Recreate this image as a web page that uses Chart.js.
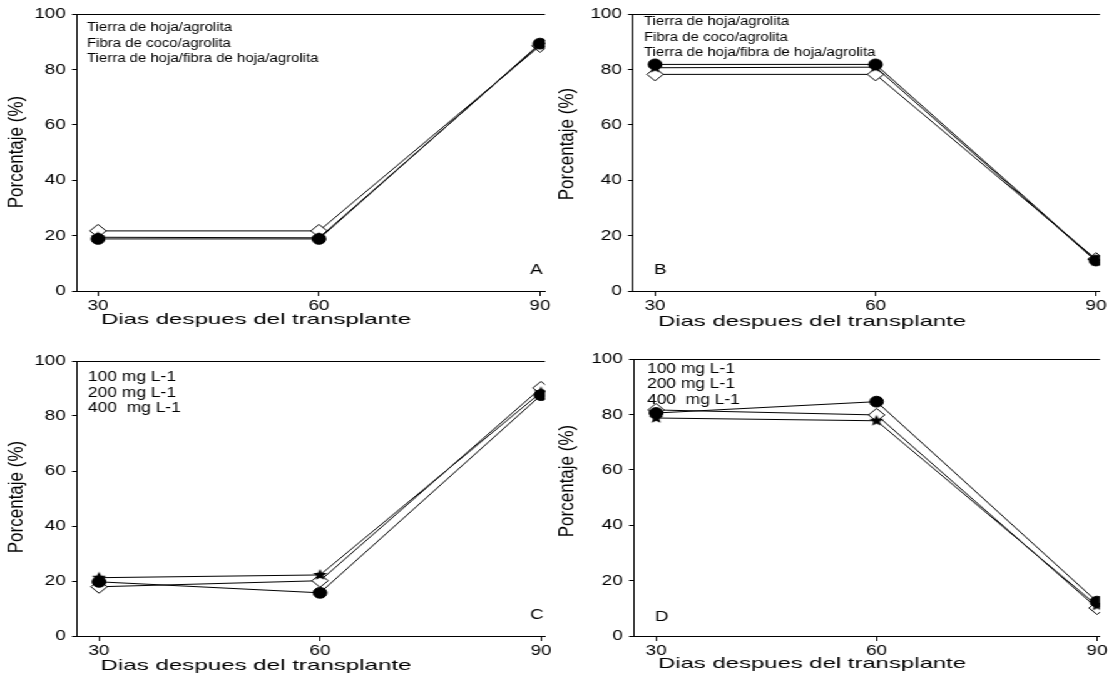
<!DOCTYPE html>
<html><head><meta charset="utf-8">
<script src="https://cdn.jsdelivr.net/npm/chart.js@4.4.0/dist/chart.umd.min.js"></script>
<style>
html,body{margin:0;padding:0;background:#fff;overflow:hidden;width:1114px;height:677px;}
#wrap{position:absolute;left:0;top:0;width:890px;height:677px;transform:scaleX(1.2517);transform-origin:0 0;}
canvas{position:absolute;}
</style></head>
<body><div id="wrap">
<canvas id="cA"></canvas><canvas id="cB"></canvas><canvas id="cC"></canvas><canvas id="cD"></canvas>
</div>
<script>
// ---- data ----
const days = [30, 60, 90];
const xTicks = [30, 60, 90];
const yTicks = [0, 20, 40, 60, 80, 100];
const legendSustrato = ["Tierra de hoja/agrolita", "Fibra de coco/agrolita", "Tierra de hoja/fibra de hoja/agrolita"];
const legendDosis = ["100 mg L-1", "200 mg L-1", "400  mg L-1"];
const xTitle = "Dias despues del transplante";
const yTitle = "Porcentaje (%)";

const A_circle = [18.8, 18.8, 89.3];
const A_star = [19.4, 19.2, 89.0];
const A_diamond = [21.7, 21.7, 88.5];

const B_circle = [81.8, 81.8, 11.0];
const B_star = [80.6, 80.8, 10.8];
const B_diamond = [78.2, 78.2, 11.5];

const C_circle = [19.7, 15.7, 87.6];
const C_star = [21.2, 22.2, 88.6];
const C_diamond = [17.9, 20.1, 90.2];

const D_circle = [80.5, 84.6, 12.4];
const D_star = [78.7, 77.7, 11.0];
const D_diamond = [81.6, 79.8, 10.1];

// ---- drawing ----
const S = 1114 / 890;
const FONT = "'Liberation Sans', Arial, sans-serif";

function starImg(r) {
  const c = document.createElement('canvas');
  const size = Math.ceil(r * 2 + 2);
  c.width = c.height = size;
  const g = c.getContext('2d');
  g.beginPath();
  for (let i = 0; i < 10; i++) {
    const a = -Math.PI / 2 + i * Math.PI / 5;
    const rr = i % 2 ? r * 0.45 : r;
    g.lineTo(size / 2 + rr * Math.cos(a), size / 2 + rr * Math.sin(a));
  }
  g.closePath();
  g.fillStyle = '#000';
  g.fill();
  return c;
}
const STAR = starImg(6);

function ds(label, data, style) {
  const base = {label, data: data.map((v, i) => ({x: days[i], y: v})), borderColor: '#000', borderWidth: 1, tension: 0};
  if (style === 'circle') Object.assign(base, {pointStyle: 'circle', pointRadius: 5.4, backgroundColor: '#000', pointBorderColor: '#000', pointBackgroundColor: '#000'});
  if (style === 'diamond') Object.assign(base, {pointStyle: 'rectRot', pointRadius: 6.5, pointBackgroundColor: '#fff', pointBorderColor: '#000', pointBorderWidth: 1, backgroundColor: '#fff'});
  if (style === 'star') Object.assign(base, {pointStyle: STAR, pointRadius: 6, backgroundColor: '#000'});
  return base;
}

function panel(id, p) {
  const cv = document.getElementById(id);
  const cl = p.canvasLeftReal / S;
  cv.style.left = cl + 'px';
  cv.style.top = p.top + 'px';
  const w = p.widthReal / S;
  cv.width = Math.round(w); cv.height = p.height;
  cv.style.width = Math.round(w) + 'px'; cv.style.height = p.height + 'px';
  const ux = rx => rx / S - cl;
  const areaLeft = ux(p.areaLeftReal), areaRight = ux(p.areaRightReal);
  const overlay = {
    id: 'overlay',
    afterDraw(chart) {
      const ctx = chart.ctx, a = chart.chartArea;
      ctx.save();
      ctx.strokeStyle = '#000'; ctx.lineWidth = 1;
      ctx.beginPath(); ctx.moveTo(a.left, Math.round(a.top) + 0.5); ctx.lineTo(a.right, Math.round(a.top) + 0.5); ctx.stroke();
      ctx.fillStyle = '#000'; ctx.textBaseline = 'middle'; ctx.textAlign = 'left';
      ctx.font = p.legendSize + 'px ' + FONT;
      const k = (p.legW / S) / ctx.measureText(p.legend[0]).width;
      p.legend.forEach((t, i) => {
        ctx.save(); ctx.translate(ux(p.legX), p.legY[i] - p.top); ctx.scale(k, 1); ctx.fillText(t, 0, 0); ctx.restore();
      });
      ctx.font = '15px ' + FONT;
      ctx.fillText(p.letter, ux(p.letterX), p.letterY - p.top);
      ctx.font = p.xTitleSize + 'px ' + FONT;
      const kx = (p.xTitleW / S) / ctx.measureText(xTitle).width;
      ctx.save(); ctx.translate(ux(p.xTitleX), p.xTitleY - p.top); ctx.scale(kx, 1); ctx.textAlign = 'center'; ctx.fillText(xTitle, 0, 0); ctx.restore();
      ctx.textAlign = 'center';
      ctx.translate(ux(p.yTitleX), p.yTitleY - p.top);
      ctx.rotate(-Math.PI / 2);
      ctx.font = p.yTitleSize + 'px ' + FONT;
      ctx.fillText(yTitle, 0, 0);
      ctx.restore();
    }
  };
  const gridOpts = {display: true, drawOnChartArea: false, drawTicks: true, tickLength: 4, color: '#000', lineWidth: 1};
  new Chart(cv, {
    type: 'line',
    data: {datasets: [ds(p.legend[0], p.circle, 'circle'), ds(p.legend[2], p.star, 'star'), ds(p.legend[1], p.diamond, 'diamond')]},
    options: {
      responsive: false, animation: false, devicePixelRatio: 1,
      layout: {padding: {left: 0, right: cv.width - areaRight, top: p.areaTop - p.top, bottom: 0}},
      plugins: {legend: {display: false}, tooltip: {enabled: false}, title: {display: false}},
      scales: {
        x: {type: 'linear', min: p.xmin, max: p.xmax,
          afterBuildTicks: s => { s.ticks = xTicks.map(v => ({value: v})); },
          afterFit: s => { s.height = p.top + p.height - p.areaBottom; },
          grid: Object.assign({}, gridOpts, {tickLength: 5}), border: {display: true, color: '#000', width: 1},
          ticks: {color: '#000', font: {family: FONT, size: 15}, padding: 1, maxRotation: 0, autoSkip: false}},
        y: {type: 'linear', min: 0, max: 100,
          afterBuildTicks: s => { s.ticks = yTicks.map(v => ({value: v})); },
          afterFit: s => { s.width = areaLeft; },
          grid: gridOpts, border: {display: true, color: '#000', width: 1},
          ticks: {color: '#000', font: {family: FONT, size: 15}, padding: 5}}
      }
    },
    plugins: [overlay]
  });
}

panel('cA', {canvasLeftReal: 0, widthReal: 557, top: 0, height: 338, areaLeftReal: 77, areaRightReal: 545, areaTop: 14, areaBottom: 291,
  xmin: 27.15, xmax: 90.68, circle: A_circle, star: A_star, diamond: A_diamond,
  legend: legendSustrato, legendSize: 12, legW: 145, legX: 87, legY: [28, 44, 59], letter: 'A', letterX: 530, letterY: 270,
  xTitleX: 256, xTitleY: 320, xTitleSize: 15, xTitleW: 310, yTitleX: 17, yTitleY: 152, yTitleSize: 17});
panel('cB', {canvasLeftReal: 557, widthReal: 557, top: 0, height: 338, areaLeftReal: 633, areaRightReal: 1100, areaTop: 14, areaBottom: 291,
  xmin: 27.0, xmax: 90.54, circle: B_circle, star: B_star, diamond: B_diamond,
  legend: legendSustrato, legendSize: 12, legW: 145, legX: 644, legY: [22, 38, 53], letter: 'B', letterX: 654, letterY: 270,
  xTitleX: 812, xTitleY: 322, xTitleSize: 15, xTitleW: 308, yTitleX: 568, yTitleY: 144, yTitleSize: 17});
panel('cC', {canvasLeftReal: 0, widthReal: 557, top: 338, height: 339, areaLeftReal: 77, areaRightReal: 545, areaTop: 361, areaBottom: 636,
  xmin: 27.01, xmax: 90.54, circle: C_circle, star: C_star, diamond: C_diamond,
  legend: legendDosis, legendSize: 14, legW: 88, legX: 88, legY: [377, 393, 408], letter: 'C', letterX: 530, letterY: 615,
  xTitleX: 256, xTitleY: 666, xTitleSize: 15, xTitleW: 311, yTitleX: 17, yTitleY: 497, yTitleSize: 17});
panel('cD', {canvasLeftReal: 557, widthReal: 557, top: 338, height: 339, areaLeftReal: 634, areaRightReal: 1100, areaTop: 359, areaBottom: 636,
  xmin: 27.0, xmax: 90.4, circle: D_circle, star: D_star, diamond: D_diamond,
  legend: legendDosis, legendSize: 14, legW: 88, legX: 647, legY: [369, 384, 400], letter: 'D', letterX: 655, letterY: 617,
  xTitleX: 812, xTitleY: 664, xTitleSize: 15, xTitleW: 308, yTitleX: 568, yTitleY: 481, yTitleSize: 17});
</script>
</body></html>
